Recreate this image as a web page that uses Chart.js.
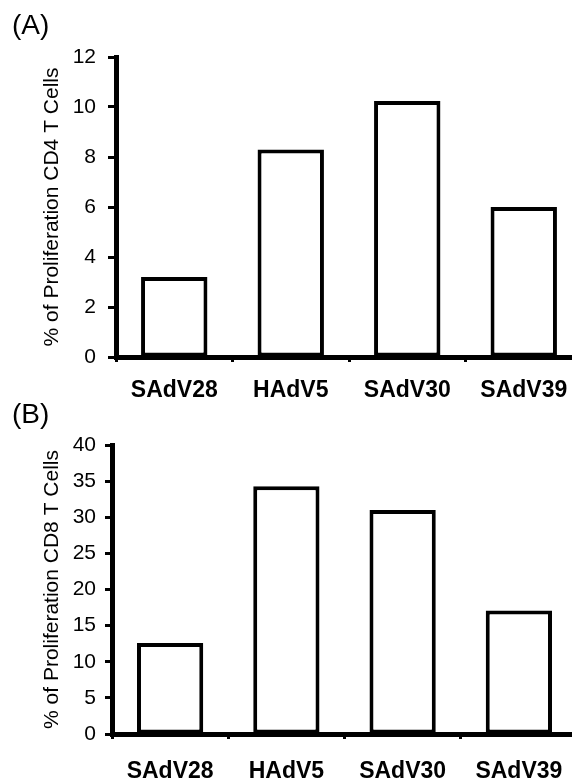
<!DOCTYPE html>
<html><head><meta charset="utf-8">
<script src="https://cdn.jsdelivr.net/npm/chart.js@4"></script>
<style>
html,body{margin:0;padding:0;background:#fff;overflow:hidden;width:572px;height:783px;}
#wrap{position:relative;width:572px;height:783px;overflow:hidden;background:#fff;}
.panel{position:absolute;left:0;width:590px;}
.lab{position:absolute;left:12px;font:28px "Liberation Sans",Arial,sans-serif;line-height:28px;color:#000;}
</style></head><body>
<div id="wrap">
<div class="panel" style="top:0;height:410px"><canvas id="cA" width="590" height="410"></canvas></div>
<div class="panel" style="top:400px;height:383px"><canvas id="cB" width="590" height="383"></canvas></div>
<div class="lab" style="top:11px">(A)</div>
<div class="lab" style="top:400px">(B)</div>
</div>
<script>
const categories = ['SAdV28', 'HAdV5', 'SAdV30', 'SAdV39'];
const cd4Values = [3.2, 8.3, 10.24, 6.0];
const cd8Values = [12.6, 34.3, 31.0, 17.1];
const cd4Ticks = [0, 2, 4, 6, 8, 10, 12];
const cd8Ticks = [0, 5, 10, 15, 20, 25, 30, 35, 40];
const cd4Title = '% of Proliferation CD4 T Cells';
const cd8Title = '% of Proliferation CD8 T Cells';

const FONT = '"Liberation Sans", Arial, sans-serif';

function makeChart(id, values, ticks, title, g) {
  const canvas = document.getElementById(id);
  const H = canvas.height, W = canvas.width;
  return new Chart(canvas, {
    type: 'bar',
    data: {
      labels: categories,
      datasets: [{
        data: values,
        backgroundColor: '#ffffff',
        borderColor: '#000000',
        borderWidth: 4,
        borderSkipped: false,
        barPercentage: 1,
        categoryPercentage: 0.57
      }]
    },
    options: {
      responsive: false,
      animation: false,
      events: [],
      layout: { padding: { left: 0, top: g.top, right: W - g.right, bottom: 0 } },
      plugins: { legend: { display: false }, tooltip: { enabled: false } },
      scales: {
        x: {
          grid: { display: true, drawOnChartArea: false, offset: true, color: '#000', tickLength: 5, tickWidth: 3 },
          border: { display: true, color: '#000', width: 5 },
          ticks: { color: '#000', font: { family: FONT, size: 23, weight: 'bold' }, padding: g.padX, maxRotation: 0, autoSkip: false },
          afterFit: s => { s.height = H - g.bottom; }
        },
        y: {
          min: ticks[0], max: ticks[ticks.length - 1],
          afterBuildTicks: s => { s.ticks = ticks.map(v => ({ value: v })); },
          grid: { display: true, drawOnChartArea: false, color: '#000', tickLength: g.tlY, tickWidth: 3 },
          border: { display: true, color: '#000', width: 5 },
          ticks: { color: '#000', font: { family: FONT, size: 21 }, padding: g.padY },
          title: { display: true, text: title, color: '#000', font: { family: FONT, size: 21 }, padding: { top: 40, bottom: 0 } },
          afterFit: s => { s.width = g.left; }
        }
      }
    }
  });
}

makeChart('cA', cd4Values, cd4Ticks, cd4Title, { left: 116, right: 582, top: 57, bottom: 357, tlY: 8, padY: 12, padX: 15 });
makeChart('cB', cd8Values, cd8Ticks, cd8Title, { left: 112, right: 577, top: 45, bottom: 334, tlY: 7, padY: 9, padX: 19 });
</script>
</body></html>
